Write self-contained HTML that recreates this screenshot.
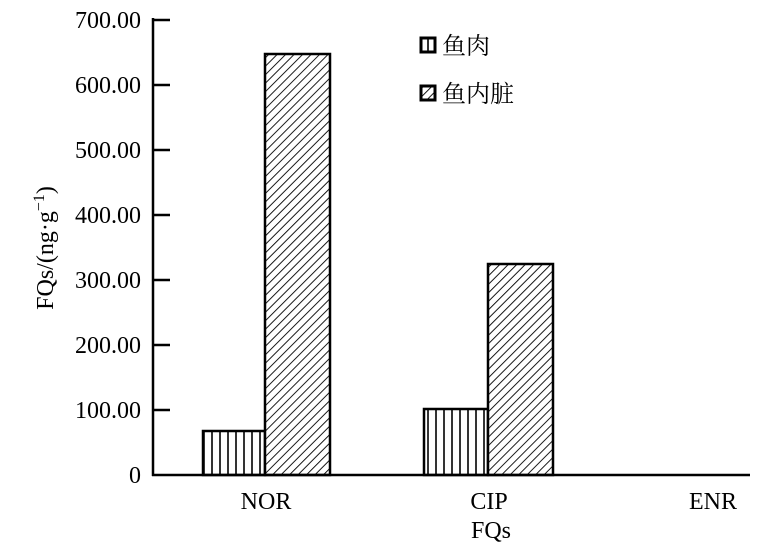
<!DOCTYPE html>
<html><head><meta charset="utf-8"><style>body{margin:0;background:#fff}</style></head><body>
<svg width="778" height="548" xmlns="http://www.w3.org/2000/svg" font-family="Liberation Serif, serif">
<defs>
<pattern id="v" width="8" height="8" patternUnits="userSpaceOnUse"><rect width="8" height="8" fill="#fff"/><line x1="4" y1="0" x2="4" y2="8" stroke="#000" stroke-width="1.6"/></pattern>
<pattern id="d" width="6" height="6" patternUnits="userSpaceOnUse" patternTransform="rotate(45)"><rect width="6" height="6" fill="#fff"/><line x1="0" y1="0" x2="0" y2="6" stroke="#000" stroke-width="1.8"/></pattern>
</defs>
<g stroke="#000" stroke-width="2.5">
<rect x="203" y="431" width="62" height="44" fill="url(#v)"/>
<rect x="265" y="54" width="65" height="421" fill="url(#d)"/>
<rect x="424" y="409" width="64" height="66" fill="url(#v)"/>
<rect x="488" y="264" width="65" height="211" fill="url(#d)"/>
<line x1="153" y1="18" x2="153" y2="476"/>
<line x1="152" y1="475" x2="750" y2="475"/>
<line x1="153" y1="20" x2="170" y2="20"/>
<line x1="153" y1="85" x2="170" y2="85"/>
<line x1="153" y1="150" x2="170" y2="150"/>
<line x1="153" y1="215" x2="170" y2="215"/>
<line x1="153" y1="280" x2="170" y2="280"/>
<line x1="153" y1="345" x2="170" y2="345"/>
<line x1="153" y1="410" x2="170" y2="410"/>
<rect x="421" y="38" width="14" height="14" fill="url(#v)" stroke-width="3"/>
<rect x="421" y="86" width="14" height="14" fill="url(#d)" stroke-width="3"/>
</g>
<g font-size="24" text-anchor="end">
<text x="141" y="28">700.00</text><text x="141" y="93">600.00</text><text x="141" y="158">500.00</text><text x="141" y="223">400.00</text><text x="141" y="288">300.00</text><text x="141" y="353">200.00</text><text x="141" y="418">100.00</text><text x="141" y="483">0</text>
</g>
<g font-size="24" text-anchor="middle">
<text x="266" y="509">NOR</text><text x="489" y="509">CIP</text><text x="713" y="509">ENR</text><text x="491" y="538">FQs</text>
<text transform="translate(53,248) rotate(-90)">FQs/(ng·g<tspan font-size="16" dy="-9">−1</tspan><tspan dy="9">)</tspan></text>
</g>
<g font-size="24" font-family="Liberation Serif, 'Noto Serif CJK SC', serif">
<text x="442" y="54">鱼肉</text><text x="442" y="102">鱼内脏</text>
</g>
</svg>
</body></html>
